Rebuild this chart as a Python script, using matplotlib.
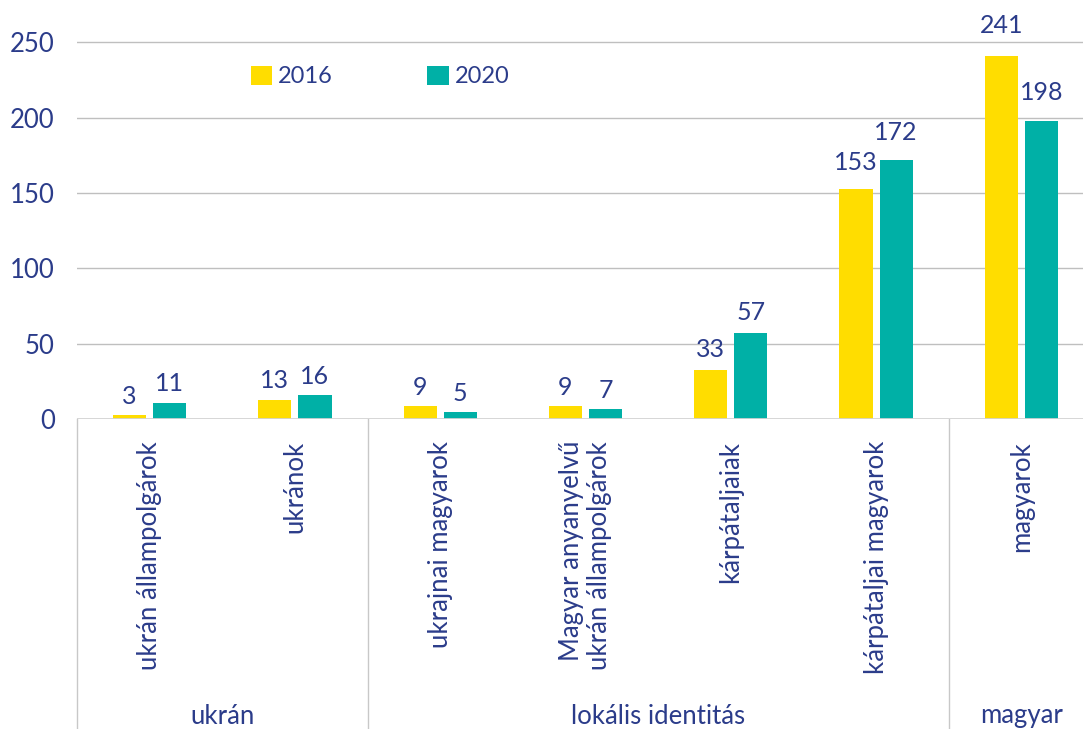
import numpy as np
import matplotlib
matplotlib.use("Agg")
import matplotlib.pyplot as plt
import matplotlib.transforms as mtransforms

# data
categories = ["ukrán állampolgárok", "ukránok", "ukrajnai magyarok",
              "Magyar anyanyelvű\nukrán állampolgárok", "kárpátaljaiak",
              "kárpátaljai magyarok", "magyarok"]
groups = ["ukrán", "lokális identitás", "magyar"]
group_sizes = [2, 4, 1]
vals_2016 = [3, 13, 9, 9, 33, 153, 241]
vals_2020 = [11, 16, 5, 7, 57, 172, 198]
years = ["2016", "2020"]

yellow = "#FFDD00"
teal = "#00B0A6"
navy = "#2B3C8A"
grid_c = "#BFBFBF"

plt.rcParams['font.family'] = ['Lato', 'DejaVu Sans']

fig = plt.figure(figsize=(10.83, 7.29), dpi=100)
W, H = 1083, 729
ax = fig.add_axes([77 / W, 1 - 419.3 / H, (1094 - 77) / W, 419.3 / H])

x = np.arange(len(categories))
w = 0.228
off = 0.138
b1 = ax.bar(x - off, vals_2016, w, color=yellow, label=years[0], zorder=3)
b2 = ax.bar(x + off, vals_2020, w, color=teal, label=years[1], zorder=3)

ax.set_xlim(-0.5, len(categories) - 0.5)
ax.set_ylim(0, 278)
ax.set_yticks([0, 50, 100, 150, 200, 250])
ax.tick_params(axis='y', length=0, pad=16, labelsize=18.5, labelcolor=navy)
for yv in [50, 100, 150, 200, 250]:
    ax.axhline(yv, color=grid_c, lw=1.0, zorder=1)
ax.axhline(0, color="#D3D3D3", lw=2.0, zorder=4)
for s in ax.spines.values():
    s.set_visible(False)

ax.set_xticks(x)
ax.set_xticklabels(categories, rotation=90, ha='center', va='top',
                   multialignment='right', fontsize=18.5, color=navy)
ax.tick_params(axis='x', length=0, pad=15.5)

# value labels
for bars, vals in [(b1, vals_2016), (b2, vals_2020)]:
    for r, v in zip(bars, vals):
        ax.annotate(str(v), (r.get_x() + r.get_width() / 2, v * 1.034),
                    xytext=(0, 4.8), textcoords='offset points',
                    ha='center', va='bottom', fontsize=18, color=navy)

# group separators and labels
trans = mtransforms.blended_transform_factory(ax.transData, ax.transAxes)
trans_f = mtransforms.blended_transform_factory(ax.transData, fig.transFigure)
edges = np.concatenate([[0], np.cumsum(group_sizes)]) - 0.5
for e in edges:
    ax.plot([e, e], [0, -1], color="#C8C8C8", lw=1.0, transform=trans,
            clip_on=False)
for g, a, b in zip(groups, edges[:-1], edges[1:]):
    fig.text((a + b) / 2, 1 - 716 / H, g, transform=trans_f, ha='center',
             va='center', fontsize=18.5, color=navy)

leg = ax.legend(handles=[b1, b2], loc='center left',
                bbox_to_anchor=(251 / W, 1 - 76.5 / H),
                bbox_transform=fig.transFigure, ncol=2, frameon=False,
                fontsize=17, handlelength=0.9, handleheight=0.9,
                handletextpad=0.25, columnspacing=4.0, borderpad=0,
                borderaxespad=0)
for t in leg.get_texts():
    t.set_color(navy)

fig.savefig("out.png", dpi=100)
